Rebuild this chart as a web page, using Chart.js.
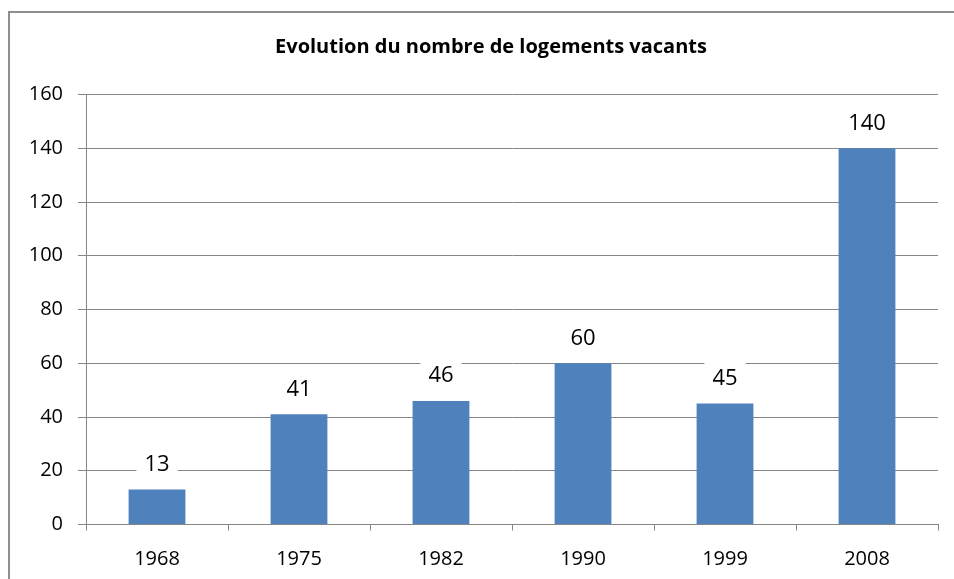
<!DOCTYPE html>
<html lang="fr">
<head>
<meta charset="utf-8">
<title>Evolution du nombre de logements vacants</title>
<script src="https://cdn.jsdelivr.net/npm/chart.js@4/dist/chart.umd.min.js"></script>
<style>
  html, body { margin: 0; padding: 0; background: #ffffff; }
  #wrap { position: relative; width: 954px; height: 579px; overflow: hidden; }
  #frame {
    position: absolute; left: 8px; top: 11px; width: 980px; height: 620px;
    border-left: 2px solid #8e8e8e; border-top: 2px solid #8e8e8e;
    box-sizing: border-box;
  }
  canvas { position: absolute; left: 0; top: 0; }
</style>
</head>
<body>
<div id="wrap">
  <div id="frame"></div>
  <canvas id="chart" width="954" height="579"></canvas>
</div>
<script>
// Recensements et nombre de logements vacants
const years = ['1968', '1975', '1982', '1990', '1999', '2008'];
const vacantHomes = [13, 41, 46, 60, 45, 140];
const yTicks = [0, 20, 40, 60, 80, 100, 120, 140, 160];
const chartTitle = 'Evolution du nombre de logements vacants';

const FONT = '"Open Sans", "Liberation Sans", sans-serif';
const GRID = '#878787';

// Title centred on the framed area, drawn above the plot
const frameTitle = {
  id: 'frameTitle',
  afterDraw(chart) {
    const ctx = chart.ctx;
    ctx.save();
    ctx.font = 'bold 20px ' + FONT;
    ctx.fillStyle = '#000000';
    ctx.textAlign = 'center';
    ctx.textBaseline = 'middle';
    ctx.fillText(chartTitle, 491, 47);
    ctx.restore();
  }
};

// Value labels above each bar, on a white box that hides the grid behind it
const valueLabels = {
  id: 'valueLabels',
  afterDatasetsDraw(chart) {
    const ctx = chart.ctx;
    const meta = chart.getDatasetMeta(0);
    ctx.save();
    ctx.font = '22px ' + FONT;
    ctx.textAlign = 'center';
    ctx.textBaseline = 'middle';
    meta.data.forEach((bar, i) => {
      const text = String(chart.data.datasets[0].data[i]);
      const w = ctx.measureText(text).width + 16;
      const h = 30;
      const cx = bar.x;
      const cy = bar.y - 26;
      ctx.fillStyle = '#ffffff';
      ctx.fillRect(cx - w / 2, cy - h / 2, w, h);
      ctx.fillStyle = '#000000';
      ctx.fillText(text, cx, cy + 1);
    });
    ctx.restore();
  }
};

new Chart(document.getElementById('chart'), {
  type: 'bar',
  data: {
    labels: years,
    datasets: [{
      data: vacantHomes,
      backgroundColor: '#4f81bd',
      borderWidth: 0,
      barPercentage: 0.4,
      categoryPercentage: 1.0
    }]
  },
  options: {
    responsive: false,
    animation: false,
    layout: { padding: { left: 0, right: 16, top: 94.5, bottom: 0 } },
    plugins: {
      legend: { display: false },
      tooltip: { enabled: false },
      title: { display: false }
    },
    scales: {
      x: {
        offset: true,
        grid: {
          offset: true,
          drawOnChartArea: false,
          drawTicks: true,
          tickLength: 6,
          color: GRID
        },
        border: { color: GRID, width: 1 },
        ticks: {
          color: '#000000',
          padding: 17,
          font: { family: FONT, size: 20 }
        },
        afterFit(scale) { scale.height = 54.5; }
      },
      y: {
        min: 0,
        max: 160,
        afterBuildTicks(scale) { scale.ticks = yTicks.map(v => ({ value: v })); },
        grid: { color: GRID, tickLength: 8, lineWidth: 1 },
        border: { color: GRID, width: 1 },
        ticks: {
          color: '#000000',
          padding: 15,
          font: { family: FONT, size: 20 }
        },
        afterFit(scale) { scale.width = 86; }
      }
    }
  },
  plugins: [valueLabels, frameTitle]
});
</script>
</body>
</html>
